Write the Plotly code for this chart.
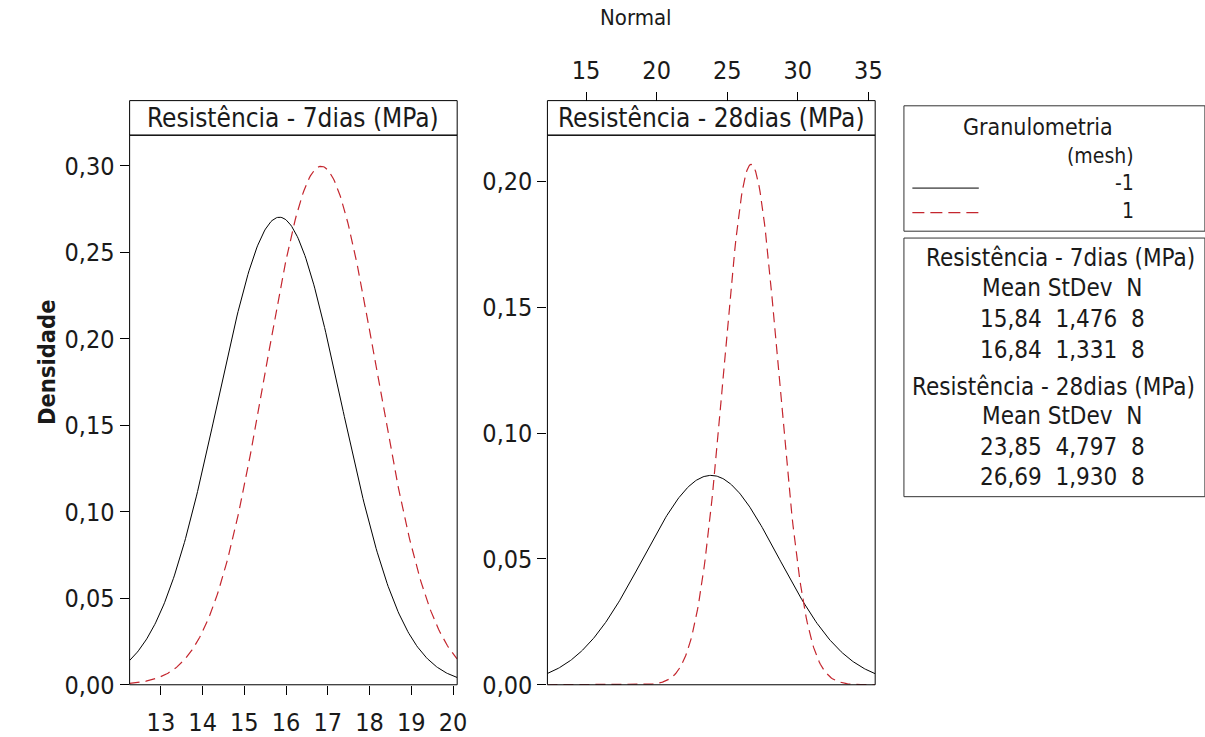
import numpy as np
import plotly.graph_objects as go

groups = ["-1", "1"]
panels = ["Resistência - 7dias (MPa)", "Resistência - 28dias (MPa)"]
mean_7 = [15.84, 16.84]
sd_7 = [1.476, 1.331]
n_7 = [8, 8]
mean_28 = [23.85, 26.69]
sd_28 = [4.797, 1.930]
n_28 = [8, 8]
xrange_7 = [12.25, 20.1]
xrange_28 = [12.26, 35.48]
yrange_7 = [0, 0.3177]
yrange_28 = [0, 0.2183]
xticks_7 = [13, 14, 15, 16, 17, 18, 19, 20]
xticks_28 = [15, 20, 25, 30, 35]
yticks_7 = [0.0, 0.05, 0.10, 0.15, 0.20, 0.25, 0.30]
yticks_28 = [0.0, 0.05, 0.10, 0.15, 0.20]

W, H = 1205, 737
def fx(px): return px / W
def fy(py): return 1 - py / H

FONT = "DejaVu Sans Condensed, Liberation Sans, Arial, sans-serif"
TXT = "#1a1a1a"
BLACK = "#000000"
RED = "#c4262e"

def pdf(x, m, s):
    return np.exp(-0.5 * ((x - m) / s) ** 2) / (s * np.sqrt(2 * np.pi))

fig = go.Figure()
styles = [dict(color=BLACK, width=1), dict(color=RED, width=1.2, dash="10px,6px")]

for i, g in enumerate(groups):
    x = np.linspace(xrange_7[0], xrange_7[1], 300)
    fig.add_trace(go.Scatter(x=x, y=pdf(x, mean_7[i], sd_7[i]), mode="lines",
                             line=styles[i], name=g, showlegend=False,
                             xaxis="x", yaxis="y"))
for i, g in enumerate(groups):
    x = np.linspace(xrange_28[0], xrange_28[1], 300)
    fig.add_trace(go.Scatter(x=x, y=pdf(x, mean_28[i], sd_28[i]), mode="lines",
                             line=styles[i], name=g, showlegend=False,
                             xaxis="x2", yaxis="y2"))

# panel geometry (pixels)
L1, R1 = 130.7, 461.0
L2, R2 = 552.0, 882.5
PT, PB = 138.0, 699.0
ST = 102.7

tickfont = dict(family=FONT, size=25, color=TXT)
common = dict(ticks="outside", ticklen=9, tickwidth=1, tickcolor=BLACK,
              showgrid=False, zeroline=False, showline=False, tickfont=tickfont)

fig.update_layout(
    width=W, height=H, autosize=False,
    margin=dict(l=0, r=0, t=0, b=0),
    paper_bgcolor="white", plot_bgcolor="white",
    separators=", ",
    showlegend=False,
    xaxis=dict(domain=[fx(L1), fx(R1)], range=xrange_7, tickvals=xticks_7,
               anchor="y", ticklabelstandoff=6, **common),
    yaxis=dict(domain=[fy(PB), fy(PT)], range=yrange_7, tickvals=yticks_7,
               tickformat=".2f", anchor="x", **common),
    xaxis2=dict(domain=[fx(L2), fx(R2)], range=xrange_28, tickvals=xticks_28,
                anchor="free", position=fy(ST), side="top",
                ticklabelstandoff=3, **common),
    yaxis2=dict(domain=[fy(PB), fy(PT)], range=yrange_28, tickvals=yticks_28,
                tickformat=".2f", anchor="x2", **common),
)

shapes = []
for (l, r) in [(L1, R1), (L2, R2)]:
    shapes.append(dict(type="rect", xref="paper", yref="paper",
                       x0=fx(l), x1=fx(r), y0=fy(PB), y1=fy(PT),
                       line=dict(color=BLACK, width=1)))
    shapes.append(dict(type="rect", xref="paper", yref="paper",
                       x0=fx(l), x1=fx(r), y0=fy(PT), y1=fy(ST),
                       line=dict(color=BLACK, width=1)))

# legend boxes
LB = 911.5
B1T, B1B = 108.0, 236.0
B2T, B2B = 243.0, 507.0
for (t, b) in [(B1T, B1B), (B2T, B2B)]:
    shapes.append(dict(type="rect", xref="paper", yref="paper",
                       x0=fx(LB), x1=fx(1215), y0=fy(b), y1=fy(t),
                       line=dict(color="#333333", width=1)))
# legend line samples
shapes.append(dict(type="line", xref="paper", yref="paper",
                   x0=fx(920), x1=fx(987), y0=fy(192), y1=fy(192),
                   line=dict(color=BLACK, width=1)))
shapes.append(dict(type="line", xref="paper", yref="paper",
                   x0=fx(920), x1=fx(987), y0=fy(217), y1=fy(217),
                   line=dict(color=RED, width=1.2, dash="12px,6px")))
fig.update_layout(shapes=shapes)

ann = []
def text(px, py, s, size=24, xanchor="center", bold=False, angle=0):
    ann.append(dict(x=fx(px), y=fy(py), xref="paper", yref="paper", text=s,
                    showarrow=False, xanchor=xanchor, yanchor="middle",
                    textangle=angle,
                    font=dict(family=FONT, size=size, color=TXT,
                              weight="bold" if bold else "normal")))

text(641, 18, "Normal", size=22)
text((L1 + R1) / 2, 120, panels[0], size=26)
text((L2 + R2) / 2, 120, panels[1], size=26)
text(48, 370, "Densidade", size=23.5, bold=True, angle=-90)

# legend 1
text(1047, 130, "Granulometria", size=23)
text(1146, 159, "(mesh)", size=21, xanchor="right")
text(1146, 187, groups[0], size=21, xanchor="right")
text(1146, 215, groups[1], size=21, xanchor="right")

# legend 2 (summary table)
def fmt(v, d):
    return f"{v:.{d}f}".replace(".", ",")

rows7 = [263, 294, 326, 357]
rows28 = [395, 425, 456, 487]
for (rows, title, means, sds, ns, x0) in [
        (rows7, panels[0], mean_7, sd_7, n_7, 932),
        (rows28, panels[1], mean_28, sd_28, n_28, 918)]:
    text(x0, rows[0], title, size=24, xanchor="left")
    text(988, rows[1], "Mean&nbsp;StDev&nbsp;&nbsp;N", size=24, xanchor="left")
    for k in range(2):
        row = f"{fmt(means[k], 2)}&nbsp;&nbsp;{fmt(sds[k], 3)}&nbsp;&nbsp;{ns[k]}"
        text(986, rows[2 + k], row, size=24, xanchor="left")

fig.update_layout(annotations=ann)
fig.write_html("out.html")
